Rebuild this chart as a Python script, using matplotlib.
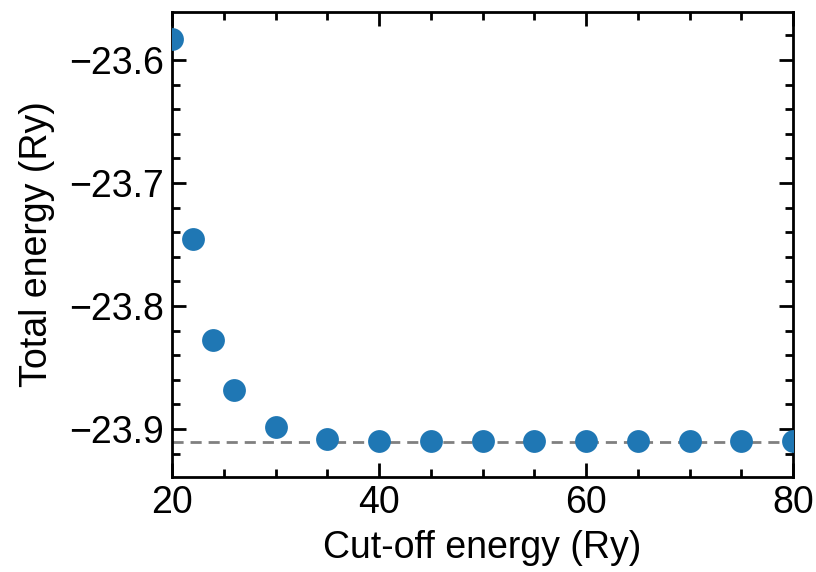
import matplotlib
matplotlib.use('Agg')
import matplotlib.pyplot as plt
from matplotlib.ticker import MultipleLocator

plt.rcParams['font.family'] = ['Liberation Sans', 'DejaVu Sans']

cutoff = [20, 22, 24, 26, 30, 35, 40, 45, 50, 55, 60, 65, 70, 75, 80]
energy = [-23.583, -23.7455, -23.828, -23.868, -23.898, -23.908, -23.9095,
          -23.9095, -23.9095, -23.9095, -23.9095, -23.9095, -23.9095, -23.9095, -23.9095]
converged = -23.9105

fig = plt.figure(figsize=[8.16, 5.72], dpi=100)
ax = fig.add_axes([172/816, 1 - 477/572, (793-172)/816, (477-12)/572])

ax.scatter(cutoff, energy, s=270, color='#1f77b4', zorder=3, linewidths=0)
ax.axhline(converged, color='grey', linestyle='--', linewidth=2, dashes=(4, 2.5), zorder=2)

ax.set_xlim(20, 80)
ax.set_ylim(-23.939, -23.561)
ax.xaxis.set_major_locator(MultipleLocator(20))
ax.xaxis.set_minor_locator(MultipleLocator(5))
ax.yaxis.set_major_locator(MultipleLocator(0.1))
ax.yaxis.set_minor_locator(MultipleLocator(0.02))

ax.tick_params(which='both', direction='in', top=True, right=True, width=2, labelsize=27)
ax.tick_params(which='major', length=10, pad=6)
ax.tick_params(which='minor', length=6)
for sp in ax.spines.values():
    sp.set_linewidth(2)

ax.set_xlabel('Cut-off energy (Ry)', fontsize=27, labelpad=6)
ax.set_ylabel('Total energy (Ry)', fontsize=27, labelpad=10)

fig.savefig('out.png', dpi=100)
